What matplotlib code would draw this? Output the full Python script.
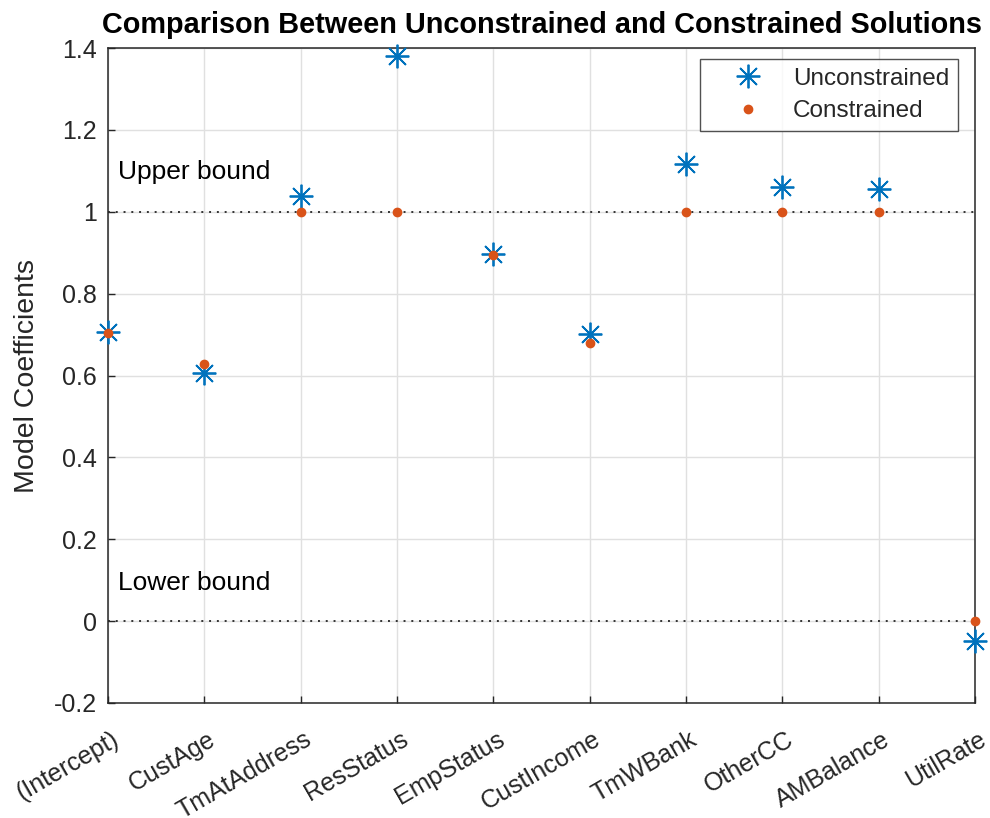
import matplotlib
matplotlib.use("Agg")
import matplotlib.pyplot as plt
import matplotlib.transforms as mtransforms
import numpy as np

categories = ["(Intercept)", "CustAge", "TmAtAddress", "ResStatus", "EmpStatus",
              "CustIncome", "TmWBank", "OtherCC", "AMBalance", "UtilRate"]
unconstrained = [0.706, 0.607, 1.039, 1.380, 0.896, 0.701, 1.116, 1.060, 1.056, -0.048]
constrained = [0.703, 0.627, 1.0, 1.0, 0.895, 0.679, 1.0, 1.0, 1.0, 0.0]
upper_bound = 1.0
lower_bound = 0.0
yticks = [-0.2, 0, 0.2, 0.4, 0.6, 0.8, 1, 1.2, 1.4]
ytick_labels = ["-0.2", "0", "0.2", "0.4", "0.6", "0.8", "1", "1.2", "1.4"]

plt.rcParams['font.family'] = ['Liberation Sans', 'DejaVu Sans']

fig = plt.figure(figsize=(9.9, 8.18), dpi=100)
ax = fig.add_axes([0.109, 0.1406, 0.876, 0.8007])

x = np.arange(1, len(categories) + 1)
blue = '#0072BD'
orange = '#D95319'
txtc = '#262626'

ax.plot(x, unconstrained, linestyle='none', marker=(8, 2, 0), markersize=17,
        markeredgewidth=1.3, color=blue, label='Unconstrained', zorder=3, clip_on=False)
ax.plot(x, constrained, linestyle='none', marker='o', markersize=6,
        color=orange, markeredgecolor=orange, label='Constrained', zorder=4, clip_on=False)
ax.plot([x[0], x[-1]], [upper_bound, upper_bound], linestyle=(0, (1, 3)), color='#333333', linewidth=1.4, zorder=2)
ax.plot([x[0], x[-1]], [lower_bound, lower_bound], linestyle=(0, (1, 3)), color='#333333', linewidth=1.4, zorder=2)

ax.text(1.1, 1.097, "Upper bound", fontsize=19, color='black', va='center', ha='left')
ax.text(1.1, 0.093, "Lower bound", fontsize=19, color='black', va='center', ha='left')

ax.set_xlim(1, 10)
ax.set_ylim(-0.2, 1.4)
ax.set_xticks(x)
ax.set_xticklabels(categories, rotation=30, ha='right', va='center',
                   rotation_mode='anchor', fontsize=18, color=txtc)
ax.set_yticks(yticks)
ax.set_yticklabels(ytick_labels, fontsize=18, color=txtc)
ax.tick_params(direction='in', length=5, width=1, color=txtc)
ax.tick_params(axis='y', pad=8)
ax.tick_params(axis='x', pad=25)
shift = mtransforms.ScaledTranslation(9 / 100, 0, fig.dpi_scale_trans)
for lab in ax.get_xticklabels():
    lab.set_transform(lab.get_transform() + shift)
ax.grid(True, color='#e0e0e0', linewidth=1)
ax.set_axisbelow(True)
for s in ax.spines.values():
    s.set_color(txtc)
    s.set_linewidth(1.1)

ax.set_ylabel("Model Coefficients", fontsize=20.5, color=txtc, labelpad=10)
ax.set_title("Comparison Between Unconstrained and Constrained Solutions",
             fontsize=20.8, fontweight='bold', color='black', pad=11)

leg = ax.legend(loc='upper right', bbox_to_anchor=(958 / 990, 1 - 59 / 818),
                bbox_transform=fig.transFigure, fontsize=17.5, frameon=True, fancybox=False,
                edgecolor='#262626', borderpad=0.35, handletextpad=0.2,
                borderaxespad=0, labelspacing=0.45, handlelength=3.3)
leg.get_frame().set_linewidth(1.0)
for t in leg.get_texts():
    t.set_color(txtc)

fig.savefig("out.png", dpi=100)
